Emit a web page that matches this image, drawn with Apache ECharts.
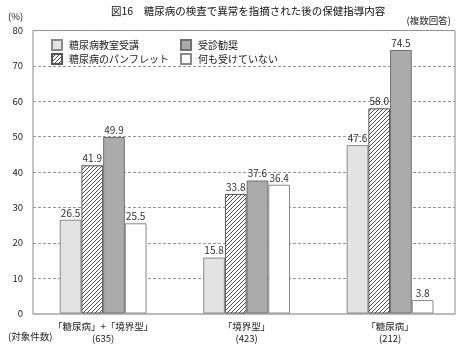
<!DOCTYPE html>
<html>
<head>
<meta charset="utf-8">
<script src="https://cdn.jsdelivr.net/npm/echarts@6/dist/echarts.min.js"></script>
<style>
  html, body { margin: 0; padding: 0; background: #fff; }
  #chart { width: 469px; height: 350px; }
</style>
</head>
<body>
<div id="chart"></div>
<script>
// Target groups and their case counts
const categories = ['「糖尿病」+「境界型」', '「境界型」', '「糖尿病」'];
const caseCounts = ['(635)', '(423)', '(212)'];

// Share of respondents (%) per guidance type
const classAttendance = [26.5, 15.8, 47.6];   // 糖尿病教室受講
const pamphlet = [41.9, 33.8, 58.0];          // 糖尿病のパンフレット
const referral = [49.9, 37.6, 74.5];          // 受診勧奨
const noGuidance = [25.5, 36.4, 3.8];         // 何も受けていない

const yTicks = [0, 10, 20, 30, 40, 50, 60, 70, 80];

const FONT = '"Noto Sans CJK JP", "Noto Sans", sans-serif';

// Diagonal hatch tile for the pamphlet series
function hatchPattern() {
  const s = 4;
  const c = document.createElement('canvas');
  c.width = s; c.height = s;
  const g = c.getContext('2d');
  g.fillStyle = '#fff';
  g.fillRect(0, 0, s, s);
  g.strokeStyle = '#222';
  g.lineWidth = 0.8;
  g.beginPath();
  g.moveTo(0, s); g.lineTo(s, 0);
  g.moveTo(-1, 1); g.lineTo(1, -1);
  g.moveTo(s - 1, s + 1); g.lineTo(s + 1, s - 1);
  g.stroke();
  return { image: c, repeat: 'repeat' };
}

const chart = echarts.init(document.getElementById('chart'), null, { renderer: 'canvas' });

const valueLabel = {
  show: true,
  position: 'top',
  distance: 2,
  fontSize: 10,
  fontFamily: FONT,
  color: '#333',
  formatter: p => p.value.toFixed(1)
};

function barSeries(name, data, itemStyle) {
  return {
    name: name,
    type: 'bar',
    xAxisIndex: 1,
    yAxisIndex: 1,
    data: data,
    barWidth: 21.7,
    barGap: '0%',
    itemStyle: itemStyle,
    label: valueLabel,
    emphasis: { disabled: true }
  };
}

const legendCommon = {
  orient: 'vertical',
  top: 34,
  itemWidth: 10,
  itemHeight: 10,
  itemGap: 2,
  icon: 'rect',
  selectedMode: false,
  textStyle: { fontSize: 10, lineHeight: 11, fontFamily: FONT, color: '#222', padding: [0, 0, 0, 2] }
};

chart.setOption({
  animation: false,
  backgroundColor: '#fff',
  textStyle: { fontFamily: FONT },
  title: {
    text: '図16　糖尿病の検査で異常を指摘された後の保健指導内容',
    left: 106,
    top: 1,
    textStyle: { fontSize: 10.5, fontWeight: 'normal', color: '#111', fontFamily: FONT }
  },
  legend: [
    Object.assign({ left: 46, data: ['糖尿病教室受講', '糖尿病のパンフレット'] }, legendCommon),
    Object.assign({ left: 175, data: ['受診勧奨', '何も受けていない'] }, legendCommon)
  ],
  grid: [
    // framed plot area with the value scale
    { left: 33, right: 14, top: 30.5, bottom: 36.5, show: true, borderColor: '#888', borderWidth: 1, containLabel: false },
    // bar placement
    { left: 31.4, right: 7.2, top: 30.5, bottom: 36.5, containLabel: false }
  ],
  xAxis: [
    {
      gridIndex: 0, type: 'category', data: categories,
      axisLine: { show: true, lineStyle: { color: '#bbb', width: 2 } },
      axisTick: { show: false }, axisLabel: { show: false }, splitLine: { show: false }
    },
    {
      gridIndex: 1, type: 'category', data: categories,
      axisLine: { show: false }, axisTick: { show: false }, splitLine: { show: false },
      axisLabel: {
        margin: 7,
        fontSize: 9.5,
        lineHeight: 12,
        color: '#222',
        fontFamily: FONT,
        formatter: (v, i) => v + '\n' + caseCounts[i]
      }
    }
  ],
  yAxis: [
    {
      gridIndex: 0, type: 'value', min: yTicks[0], max: yTicks[yTicks.length - 1], interval: 10,
      axisLine: { show: false }, axisTick: { show: false },
      axisLabel: { margin: 10, fontSize: 9.5, color: '#222', fontFamily: FONT },
      splitLine: { show: true, lineStyle: { color: '#999', type: [3, 2], width: 1 } }
    },
    {
      gridIndex: 1, type: 'value', min: yTicks[0], max: yTicks[yTicks.length - 1], interval: 10,
      show: false, splitLine: { show: false }
    }
  ],
  graphic: [
    { type: 'text', left: 8, top: 12, style: { text: '(%)', fontSize: 9.5, fontFamily: FONT, fill: '#222' } },
    { type: 'text', right: 18, top: 16, style: { text: '(複数回答)', fontSize: 9.5, fontFamily: FONT, fill: '#222' } },
    { type: 'text', left: 8, top: 332, style: { text: '(対象件数)', fontSize: 9.5, fontFamily: FONT, fill: '#222' } }
  ],
  series: [
    barSeries('糖尿病教室受講', classAttendance, { color: '#e3e3e3', borderColor: '#8a8a8a', borderWidth: 1 }),
    barSeries('糖尿病のパンフレット', pamphlet, { color: hatchPattern(), borderColor: '#555', borderWidth: 1 }),
    barSeries('受診勧奨', referral, { color: '#ababab', borderColor: '#707070', borderWidth: 1 }),
    barSeries('何も受けていない', noGuidance, { color: '#fff', borderColor: '#8a8a8a', borderWidth: 1 })
  ]
});
</script>
</body>
</html>
